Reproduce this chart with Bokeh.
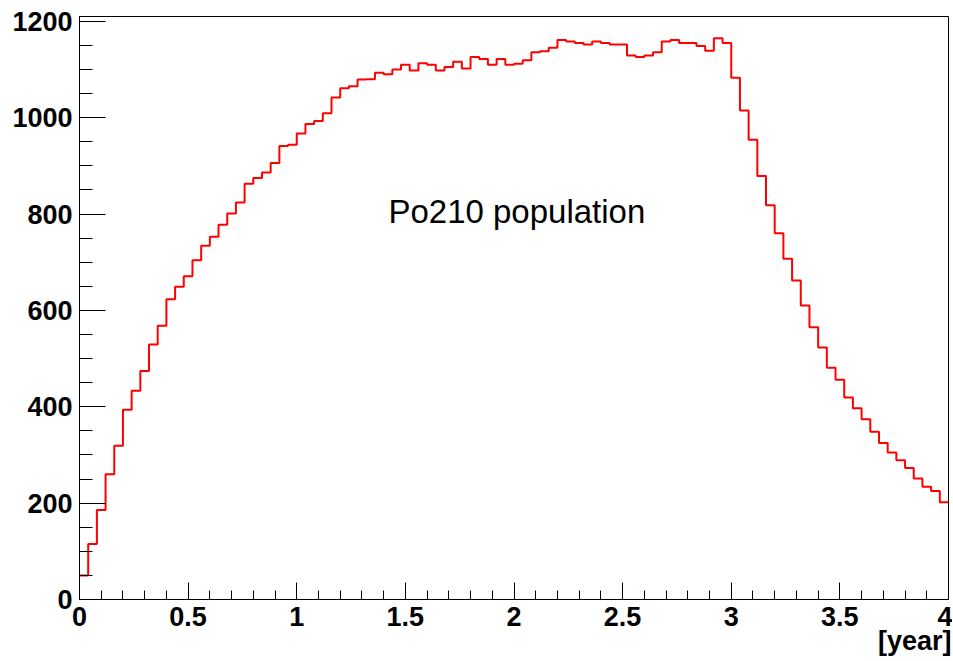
import numpy as np
from bokeh.plotting import figure
from bokeh.models import Range1d, SingleIntervalTicker, CustomJSTickFormatter, Label, Title
from bokeh.embed import file_html
from bokeh.resources import INLINE

# Histogram: 100 bins of 0.04 year between 0 and 4
x_min = 0.0
x_max = 4.0
n_bins = 100
counts = [
    50, 115, 186, 260, 319, 394, 433, 474, 529, 568,
    623, 649, 671, 704, 734, 753, 778, 801, 824, 863,
    875, 886, 906, 941, 944,
    967, 987, 993, 1009, 1042, 1061, 1065, 1079, 1080, 1093,
    1090, 1100, 1110, 1098, 1113, 1110, 1098, 1105, 1116, 1102,
    1126, 1122, 1110, 1122, 1110,
    1112, 1119, 1136, 1138, 1145, 1161, 1158, 1155, 1152, 1158,
    1155, 1152, 1152, 1129, 1126, 1129, 1136, 1158, 1161, 1155,
    1155, 1149, 1139, 1165, 1155,
    1083, 1015, 954, 879, 818, 760, 707, 662, 610, 565,
    523, 481, 456, 419, 397, 374, 348, 325, 305, 289,
    273, 251, 234, 225, 202,
]
label_text = "Po210 population"
x_title = "[year]"

edges = np.linspace(x_min, x_max, n_bins + 1)
ys = list(counts) + [counts[-1]]

p = figure(width=952, height=658,
           x_range=Range1d(0, 4), y_range=Range1d(0, 1210),
           output_backend="svg", toolbar_location=None,
           min_border_left=79, min_border_right=4,
           min_border_top=16, min_border_bottom=59)

p.step(edges, ys, mode="after", line_color="#ff0000", line_width=2)

p.xgrid.visible = False
p.ygrid.visible = False
p.outline_line_color = "black"
p.outline_line_width = 1
p.background_fill_color = "white"
p.border_fill_color = "white"

xa = p.xaxis[0]
xa.ticker = SingleIntervalTicker(interval=0.5, num_minor_ticks=5)
xa.formatter = CustomJSTickFormatter(code="return tick.toString();")
xa.major_tick_in = 17
xa.major_tick_out = 0
xa.minor_tick_in = 9
xa.minor_tick_out = 0
xa.major_label_standoff = 7

ya = p.yaxis[0]
ya.ticker = SingleIntervalTicker(interval=200, num_minor_ticks=4)
ya.major_tick_in = 26
ya.major_tick_out = 0
ya.minor_tick_in = 13
ya.minor_tick_out = 0
ya.major_label_standoff = 7

for ax in (xa, ya):
    ax.axis_line_color = "black"
    ax.major_tick_line_color = "black"
    ax.minor_tick_line_color = "black"
    ax.major_label_text_font = "Liberation Sans"
    ax.major_label_text_font_style = "bold"
    ax.major_label_text_font_size = "27px"
    ax.major_label_text_color = "black"

p.add_layout(Label(x=1.422, y=805, text=label_text, text_font="Liberation Sans",
                   text_font_size="33px", text_baseline="alphabetic",
                   text_align="left", text_color="black"))
p.add_layout(Title(text=x_title, align="right", vertical_align="top",
                   standoff=-6, offset=-3,
                   text_font="Liberation Sans", text_font_style="bold",
                   text_font_size="27px", text_color="black"), "below")

open("out.html", "w").write(file_html(p, INLINE))
